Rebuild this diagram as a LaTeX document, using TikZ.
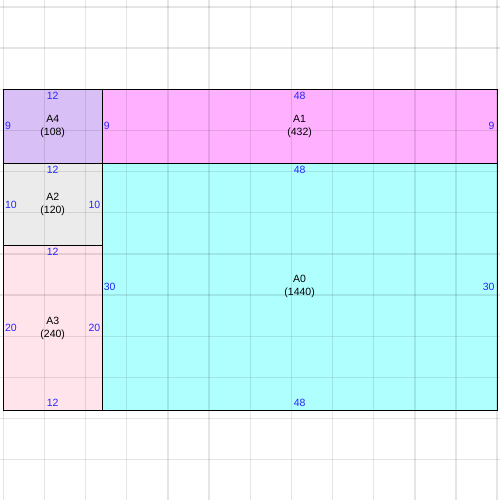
\documentclass[tikz,border=0pt]{standalone}
\usepackage{fontspec}
\setmainfont{Liberation Sans}
\usetikzlibrary{positioning}
\definecolor{dimblue}{RGB}{40,40,250}
\definecolor{lavender}{RGB}{216,191,245}
\definecolor{orchid}{RGB}{255,176,255}
\definecolor{paleash}{RGB}{235,235,235}
\definecolor{blush}{RGB}{255,228,236}
\definecolor{aqua}{RGB}{176,255,255}
\tikzset{%
	area/.style={draw=black, line width=1.1pt},
	label/.style={align=center, inner sep=0pt, font=\fontsize{10.5}{13}\selectfont},
	dim/.style={inner sep=0pt, text=dimblue, font=\fontsize{10.5}{13}\selectfont},
	gridline/.style={draw=black, opacity=0.1, line width=1.4pt}
}
\begin{document}
\begin{tikzpicture}[x=8.23pt, y=-8.23pt]
			\useasboundingbox (-0.4,-10.85) rectangle (60.35,49.9);
			\fill[lavender] (0,0) rectangle (12,9);
			\fill[orchid]   (12,0) rectangle (60,9);
			\fill[paleash]  (0,9) rectangle (12,19);
			\fill[blush]    (0,19) rectangle (12,39);
			\fill[aqua]     (12,9) rectangle (60,39);

			% grid every 5 units
			\begin{scope}
				\clip (-0.4,-10.85) rectangle (60.35,49.9);
				\foreach \i in {0,...,12}
					\draw[gridline] (5*\i,-15) -- (5*\i,50);
				\foreach \j in {-2,...,9}
					\draw[gridline] (-5,5*\j) -- (65,5*\j);
			\end{scope}

			\draw[area] (0,0) rectangle (12,9);
			\draw[area] (12,0) rectangle (60,9);
			\draw[area] (0,9) rectangle (12,19);
			\draw[area] (0,19) rectangle (12,39);
			\draw[area] (12,9) rectangle (60,39);

			\node[label] (a4) at (6,4.5) {A4\\(108)};
			\node[dim] (a4-w) at (6,0.8) {12};
			\node[dim, anchor=west] (a4-l) at (0.2,4.5) {9};

			\node[label] (a1) at (36,4.5) {A1\\(432)};
			\node[dim] (a1-w) at (36,0.8) {48};
			\node[dim, anchor=west] (a1-l) at (12.2,4.5) {9};
			\node[dim, anchor=east] (a1-r) at (59.7,4.5) {9};

			\node[label] (a2) at (6,14) {A2\\(120)};
			\node[dim] (a2-w) at (6,9.8) {12};
			\node[dim, anchor=west] (a2-l) at (0.2,14) {10};
			\node[dim, anchor=east] (a2-r) at (11.8,14) {10};

			\node[label] (a3) at (6,29) {A3\\(240)};
			\node[dim] (a3-w) at (6,19.8) {12};
			\node[dim, anchor=west] (a3-l) at (0.2,29) {20};
			\node[dim, anchor=east] (a3-r) at (11.8,29) {20};
			\node[dim] (a3-b) at (6,38.15) {12};

			\node[label] (a0) at (36,23.9) {A0\\(1440)};
			\node[dim] (a0-w) at (36,9.8) {48};
			\node[dim, anchor=west] (a0-l) at (12.2,24) {30};
			\node[dim, anchor=east] (a0-r) at (59.7,24) {30};
			\node[dim] (a0-b) at (36,38.15) {48};
\end{tikzpicture}
\end{document}
